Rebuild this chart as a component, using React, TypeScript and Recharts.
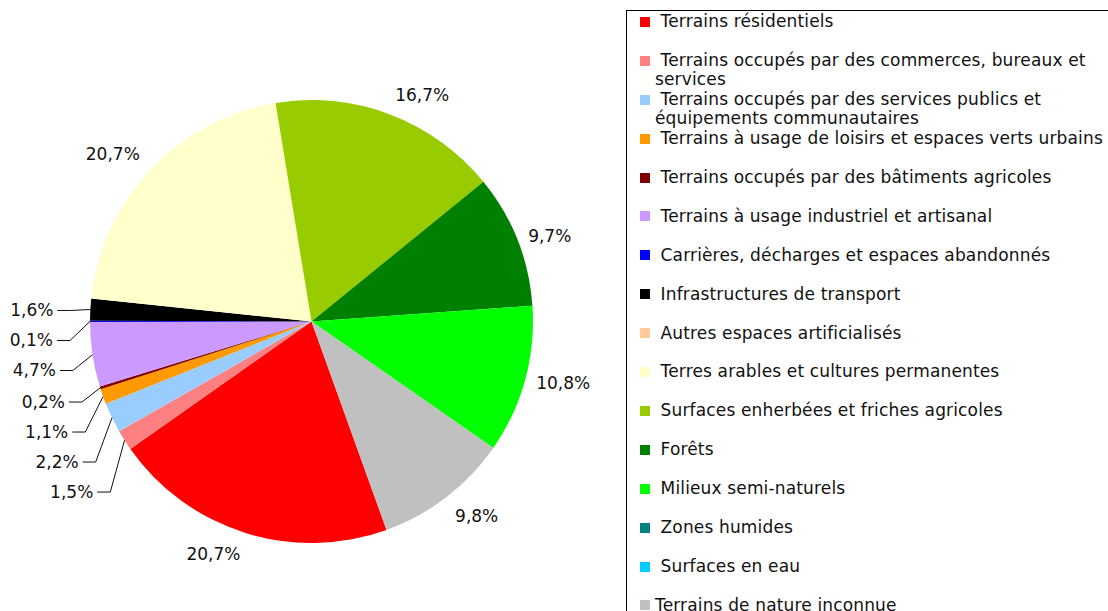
import { PieChart, Pie, Cell, Legend } from "recharts";

const names = [
  " Terrains résidentiels",
  " Terrains occupés par des commerces, bureaux et services",
  " Terrains occupés par des services publics et équipements communautaires",
  " Terrains à usage de loisirs et espaces verts urbains",
  " Terrains occupés par des bâtiments agricoles",
  " Terrains à usage industriel et artisanal",
  " Carrières, décharges et espaces abandonnés",
  " Infrastructures de transport",
  " Autres espaces artificialisés",
  " Terres arables et cultures permanentes",
  " Surfaces enherbées et friches agricoles",
  " Forêts",
  " Milieux semi-naturels",
  " Zones humides",
  " Surfaces en eau",
  "Terrains de nature inconnue",
];

const shares = [20.7, 1.5, 2.2, 1.1, 0.2, 4.7, 0.1, 1.6, 0, 20.7, 16.7, 9.7, 10.8, 0, 0, 9.8];

const colors = [
  "#ff0000", "#ff8080", "#99ccff", "#ff9900", "#800000", "#cc99ff", "#0000ff", "#000000",
  "#ffcc99", "#ffffcc", "#99cc00", "#008000", "#00ff00", "#008080", "#00ccff", "#c0c0c0",
];

const rows = names.map((name, i) => ({ name, value: shares[i] }));

const CX = 311.5;
const CY = 321.5;
const R = 221.5;
const START = -70.2;
const RAD = Math.PI / 180;
const FONT = '"DejaVu Sans", sans-serif';

// mid angles, same way the pie splits the circle
const total = shares.reduce((a, b) => a + b, 0);
const mids: number[] = [];
let acc = 0;
shares.forEach((v) => {
  mids.push(START - (360 * (acc + v / 2)) / total);
  acc += v;
});

const isSmall = (i: number) => shares[i] > 0 && shares[i] < 5;

// stack small labels on the left, top to bottom
const stackY: Record<number, number> = {};
let prev = -Infinity;
for (let i = shares.length - 1; i >= 0; i--) {
  if (!isSmall(i)) continue;
  const natural = CY - 258.5 * Math.sin(mids[i] * RAD) + 3;
  const y = Math.max(natural, prev + 30);
  stackY[i] = y;
  prev = y;
}

const fmt = (v: number) => v.toFixed(1).replace(".", ",") + "%";

function renderLabel(props: any) {
  const { index, cx, cy, outerRadius, midAngle } = props;
  const v = shares[index];
  if (!v) return null;
  const cos = Math.cos(midAngle * RAD);
  const sin = Math.sin(midAngle * RAD);

  if (isSmall(index)) {
    const y = stackY[index];
    const endX = cx + 258.5 * cos;
    const ex = cx + outerRadius * cos;
    const ey = cy - outerRadius * sin;
    return (
      <g key={`l${index}`}>
        <text x={endX} y={y + 5.5} textAnchor="end" fontFamily={FONT} fontSize={17} fill="#111">
          {fmt(v)}
        </text>
        <polyline
          points={`${endX + 4},${y} ${endX + 17},${y} ${ex},${ey}`}
          fill="none"
          stroke="#111"
          strokeWidth={1}
        />
      </g>
    );
  }

  // near horizontal: centred vertically; otherwise a corner touches the ring
  let x: number;
  let y: number;
  if (Math.abs(sin) < 0.5) {
    x = cx + 233 * cos;
    y = cy - 233 * sin + 6;
  } else {
    x = cx + 236 * cos;
    y = cy - 236 * sin;
    if (sin < 0) y += 13;
  }
  return (
    <text
      key={`l${index}`}
      x={x}
      y={y}
      textAnchor={cos >= 0 ? "start" : "end"}
      fontFamily={FONT}
      fontSize={17}
      fill="#111"
    >
      {fmt(v)}
    </text>
  );
}

function LegendBox() {
  return (
    <div
      style={{
        position: "relative",
        width: "100%",
        height: "100%",
        border: "1px solid #000",
        boxSizing: "border-box",
        fontFamily: FONT,
        fontSize: 17,
        letterSpacing: 0.15,
        color: "#111",
        background: "#fff",
      }}
    >
      {names.map((n, i) => (
        <div key={n}>
          <div
            style={{
              position: "absolute",
              left: 13,
              top: 5.9 + 38.9 * i,
              width: 10,
              height: 10,
              background: colors[i],
            }}
          />
          <div
            style={{
              position: "absolute",
              left: 28,
              top: 1.3 + 38.9 * i,
              width: 470,
              lineHeight: "18.7px",
              whiteSpace: "pre-wrap",
            }}
          >
            {n}
          </div>
        </div>
      ))}
    </div>
  );
}

export default function App() {
  return (
    <div
      style={{
        position: "fixed",
        left: 0,
        top: 0,
        width: 1108,
        height: 611,
        overflow: "hidden",
        background: "#fff",
      }}
    >
      <PieChart width={1108} height={611} margin={{ top: 0, right: 0, bottom: 0, left: 0 }}>
        <Pie
          data={rows}
          dataKey="value"
          nameKey="name"
          cx={CX}
          cy={CY}
          outerRadius={R}
          startAngle={START}
          endAngle={START - 360}
          stroke="none"
          label={renderLabel}
          labelLine={false}
          isAnimationActive={false}
        >
          {rows.map((r, i) => (
            <Cell key={r.name} fill={colors[i]} />
          ))}
        </Pie>
        <Legend
          layout="vertical"
          align="right"
          verticalAlign="top"
          wrapperStyle={{ left: 626, top: 10, width: 520, height: 640 }}
          content={() => <LegendBox />}
        />
      </PieChart>
    </div>
  );
}
